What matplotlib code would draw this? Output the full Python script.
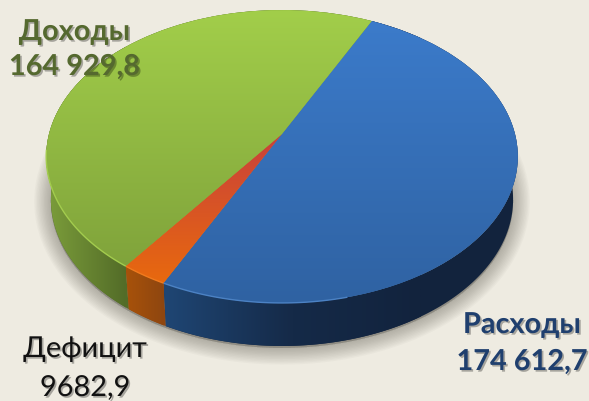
import numpy as np
import matplotlib
matplotlib.use("Agg")
import matplotlib.pyplot as plt
from matplotlib.colors import LinearSegmentedColormap
from matplotlib.patches import Polygon
from matplotlib.transforms import Transform
import matplotlib.patheffects as pe

# ---- data ----
categories = ["Расходы", "Дефицит", "Доходы"]
values = [174612.7, 9682.9, 164929.8]
value_labels = ["174 612,7", "9682,9", "164 929,8"]

# ---- styles ----
BG = "#EEEBE1"
top_grads = [["#3C7CCC", "#2F62A2"], ["#C8403C", "#E8690E"], ["#A2CE4A", "#7B9D39"]]
wall_grads = [["#1F4674", "#152A48", "#12233D"], ["#A8520A", "#8E4610"], ["#7C9E3B", "#536C28"]]
rim_colors = ["#4C82C4", "#F07A1E", "#A3CC4E"]
rim_xmax = [350, 999, 999]
W, H = 589, 402
APEX = (282.0, 135.0)
A, B, K = 233.0, 143.0, 0.1536
DEPTH = 43.0


class Perspective(Transform):
    """Unit-circle pie plane -> tilted, foreshortened plane in pixel coords."""
    input_dims = output_dims = 2
    has_inverse = False

    def __init__(self, shift=0.0, xscale=1.0):
        super().__init__()
        self.shift = shift
        self.xscale = xscale

    def transform_non_affine(self, xy):
        xy = np.asarray(xy, float)
        w = 1 + K * xy[:, 1]
        return np.column_stack([APEX[0] + self.xscale * A * xy[:, 0] / w,
                                APEX[1] - B * xy[:, 1] / w + self.shift])


fig = plt.figure(figsize=(W / 100, H / 100), dpi=100, facecolor=BG)
ax = fig.add_axes([0, 0, 1, 1])

wedges, _ = ax.pie(values, startangle=64, counterclock=False, radius=1.0,
                   colors=[g[-1] for g in top_grads])
ax.set_aspect("auto")
ax.set_xlim(0, W)
ax.set_ylim(H, 0)
ax.axis("off")

top = Perspective(0.0)
low = Perspective(DEPTH, 0.98)


def rim(th1, th2, n=200):
    t = np.radians(np.linspace(th1, th2, n))
    return np.column_stack([np.cos(t), np.sin(t)])


def gradient(colors, vertical, bbox, zorder, clip):
    cmap = LinearSegmentedColormap.from_list("g", colors)
    g = np.linspace(0, 1, 256)
    arr = g[:, None] if vertical else g[None, :]
    x0, x1, y0, y1 = bbox
    im = ax.imshow(arr, cmap=cmap, extent=(x0, x1, y1, y0), aspect="auto",
                   zorder=zorder, interpolation="bilinear", origin="upper")
    im.set_clip_path(clip)
    return im


# soft shadow beneath the disc
circle = rim(0, 360, 400)
sil = low.transform_non_affine(circle) + np.array([0.0, 2.0])
for lw in range(24, 0, -2):
    ax.add_patch(Polygon(sil, closed=True, facecolor="#55534A", edgecolor="#55534A",
                         alpha=0.035, lw=lw, joinstyle="round", zorder=1))

# side walls then top faces
for w, wall in zip(wedges, wall_grads):
    r = rim(w.theta1, w.theta2)
    upper = top.transform_non_affine(r)
    lower = low.transform_non_affine(r)
    strip = Polygon(np.vstack([upper, lower[::-1]]), closed=True,
                    facecolor=wall[-1], edgecolor="none", zorder=2)
    ax.add_patch(strip)
    front = upper[r[:, 1] < 0.15]
    xs = front[:, 0] if len(front) else upper[:, 0]
    span = (xs.min(), xs.max() if len(wall) == 2 else min(xs.max(), 420), 0, H)
    gradient(wall, False, span, 2.1, strip)

for w, topc, rimc, rx in zip(wedges, top_grads, rim_colors, rim_xmax):
    w.set_transform(top + ax.transData)
    w.set_zorder(3)
    w.set_edgecolor("none")
    uv = rim(w.theta1, w.theta2)
    pts = top.transform_non_affine(uv)
    if topc[0] == "#C8403C":  # slice fades from its tip to its rim
        box = (0, W, APEX[1], pts[:, 1].max())
    else:
        box = (0, W, 11, 304)
    gradient(topc, True, box, 3.1, w)
    front = pts[(uv[:, 1] < -0.1) & (pts[:, 0] < rx)]
    if len(front):
        ax.plot(front[:, 0], front[:, 1], color=rimc, lw=1.0, zorder=3.2,
                solid_capstyle="butt")

# ---- labels ----
plt.rcParams["font.family"] = ["Lato", "Open Sans", "DejaVu Sans"]
label_style = [
    dict(color="#1F3F6E", weight="bold", x=(522, 522), y=(326, 363)),
    dict(color="#111111", weight="normal", x=(85, 85), y=(350, 389)),
    dict(color="#55692F", weight="bold", x=(74.5, 74.5), y=(33, 68)),
]
for name, val, st in zip(categories, value_labels, label_style):
    for s, x, y in zip((name, val), st["x"], st["y"]):
        ax.text(x, y, s, ha="center", va="center", fontsize=20.8, color=st["color"],
                fontweight=st["weight"], zorder=6,
                path_effects=[pe.withSimplePatchShadow(offset=(1.2, -1.2), shadow_rgbFace="#000000", alpha=0.3)])

fig.savefig("out.png", dpi=100, facecolor=BG)
